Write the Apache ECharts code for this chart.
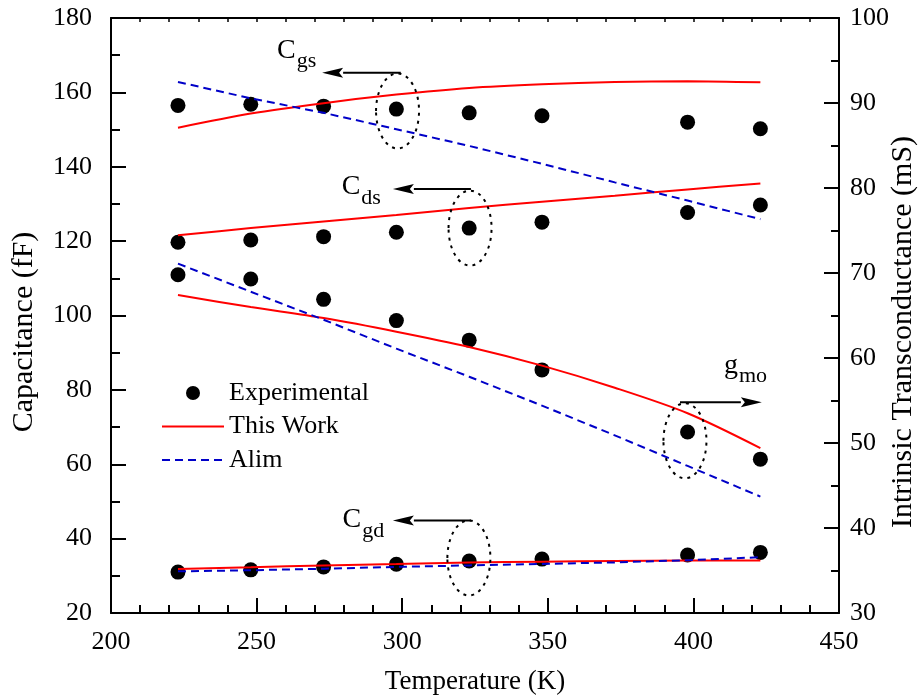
<!DOCTYPE html>
<html>
<head>
<meta charset="utf-8">
<script src="https://cdn.jsdelivr.net/npm/echarts@6/dist/echarts.min.js"></script>
<style>
  html, body { margin: 0; padding: 0; background: #fff; }
  #chart { width: 922px; height: 697px; }
</style>
</head>
<body>
<div id="chart"></div>
<script>
// temperatures (K)
const tempExp = [223, 248, 273, 298, 323, 348, 398, 423];
const tempModel = [223, 248, 273, 298, 323, 348, 373, 398, 423];

// experimental points
const expCgs = [156.5, 156.8, 156.3, 155.5, 154.5, 153.7, 152.0, 150.2];
const expCds = [119.7, 120.3, 121.2, 122.4, 123.5, 125.1, 127.7, 129.7];
const expCgd = [31.0, 31.6, 32.4, 33.1, 34.0, 34.5, 35.6, 36.3];
const expGmo = [69.8, 69.3, 66.9, 64.4, 62.1, 58.6, 51.3, 48.1]; // right axis, mS

// this work model
const workCgs = [150.5, 154.3, 157.1, 159.4, 161.2, 162.2, 162.8, 163.0, 162.7];
const workCds = [121.6, 123.5, 125.3, 127.0, 128.9, 130.6, 132.2, 133.9, 135.5];
const workCgd = [31.8, 32.3, 32.8, 33.2, 33.6, 33.8, 34.0, 34.1, 34.1];
const workGmo = [67.4, 66.0, 64.7, 63.1, 61.3, 59.1, 56.5, 53.5, 49.4];

// Alim model
const alimCgs = [162.8, 158.4, 154.5, 150.1, 145.6, 140.8, 135.8, 130.9, 125.9];
const alimCgd = [31.2, 31.5, 31.9, 32.4, 32.8, 33.2, 33.6, 34.2, 35.0];
const alimGmo = [71.1, 67.8, 64.5, 61.1, 57.8, 54.4, 50.9, 47.3, 43.7];

// annotation labels: main letter, subscript, baseline-left of main letter (K, fF)
const notes = [
  { main: 'C', sub: 'gs', at: [257.0, 168.7] },
  { main: 'C', sub: 'ds', at: [279.2, 132.0] },
  { main: 'C', sub: 'gd', at: [279.5, 42.5] },
  { main: 'g', sub: 'mo', at: [410.5, 84.0] }
];
// arrows: tail -> tip (K, fF)
const arrows = [
  [[299.5, 165.3], [272.5, 165.3]],
  [[323.6, 134.0], [296.8, 134.0]],
  [[323.6, 44.9], [296.8, 44.9]],
  [[395.4, 76.7], [423.5, 76.7]]
];
// dotted ellipses centre (K, fF)
const rings = [[298.4, 155.0], [323.3, 123.5], [397.1, 66.3], [322.9, 34.8]];

const FONT = 'Liberation Serif';
const BLACK = '#000';

const zip = (xs, ys) => xs.map((x, i) => [x, ys[i]]);

const chart = echarts.init(document.getElementById('chart'));

const dotSeries = (data, yAxisIndex) => ({
  name: 'Experimental',
  type: 'scatter',
  yAxisIndex,
  data,
  symbol: 'circle',
  symbolSize: 15,
  itemStyle: { color: BLACK, opacity: 1 },
  z: 2
});

const workSeries = (data, yAxisIndex) => ({
  name: 'This Work',
  type: 'line',
  yAxisIndex,
  data,
  symbol: 'none',
  smooth: 0.3,
  lineStyle: { color: '#ff0000', width: 2 },
  itemStyle: { color: '#ff0000' },
  z: 3
});

const alimSeries = (data, yAxisIndex) => ({
  name: 'Alim',
  type: 'line',
  yAxisIndex,
  data,
  symbol: 'none',
  lineStyle: { color: '#0000c8', width: 2, type: [8, 5] },
  itemStyle: { color: '#0000c8' },
  z: 3
});

const axisLine = { show: true, onZero: false, lineStyle: { color: BLACK, width: 2 } };

chart.setOption({
  backgroundColor: '#fff',
  animation: false,
  grid: {
    left: 111, right: 83, top: 18, bottom: 84,
    containLabel: false,
    outerBoundsMode: 'none'
  },
  legend: {
    data: [
      { name: 'Experimental' },
      { name: 'This Work', itemStyle: { opacity: 0 } },
      { name: 'Alim', itemStyle: { opacity: 0 } }
    ],
    orient: 'vertical',
    left: 161,
    top: 380,
    padding: 0,
    itemWidth: 62,
    itemHeight: 14,
    itemGap: 7.5,
    selectedMode: false,
    textStyle: { fontFamily: FONT, fontSize: 26, color: BLACK }
  },
  xAxis: [
    {
      type: 'value',
      min: 200, max: 450, interval: 50,
      name: 'Temperature (K)',
      nameLocation: 'middle',
      nameGap: 55,
      nameMoveOverlap: false,
      nameTextStyle: { fontFamily: FONT, fontSize: 27, color: BLACK },
      axisLine,
      axisTick: { show: true, inside: true, length: 15, lineStyle: { color: BLACK, width: 2 } },
      minorTick: { show: true, splitNumber: 5, length: 8, lineStyle: { color: BLACK, width: 2 } },
      axisLabel: { fontFamily: FONT, fontSize: 26, color: BLACK, margin: 16 },
      splitLine: { show: false }
    },
    {
      type: 'value',
      position: 'top',
      min: 200, max: 450, interval: 10,
      axisLine,
      axisTick: { show: true, inside: true, length: 4, lineStyle: { color: BLACK, width: 1.5 } },
      axisLabel: { show: false },
      splitLine: { show: false }
    }
  ],
  yAxis: [
    {
      type: 'value',
      min: 20, max: 180, interval: 20,
      name: 'Capacitance (fF)',
      nameLocation: 'middle',
      nameRotate: 90,
      nameGap: 72,
      nameMoveOverlap: false,
      nameTextStyle: { fontFamily: FONT, fontSize: 30, color: BLACK, padding: [0, 33, 0, 0] },
      axisLine,
      axisTick: { show: true, inside: true, length: 15, lineStyle: { color: BLACK, width: 2 } },
      minorTick: { show: true, splitNumber: 2, length: 9, lineStyle: { color: BLACK, width: 2 } },
      axisLabel: { fontFamily: FONT, fontSize: 26, color: BLACK, margin: 19 },
      splitLine: { show: false }
    },
    {
      type: 'value',
      position: 'right',
      min: 30, max: 100, interval: 10,
      name: 'Intrinsic Transconductance (mS)',
      nameLocation: 'middle',
      nameRotate: 90,
      nameGap: 49,
      nameMoveOverlap: false,
      nameTextStyle: { fontFamily: FONT, fontSize: 30, color: BLACK, padding: [0, 33, 0, 0] },
      axisLine,
      axisTick: { show: true, inside: true, length: 15, lineStyle: { color: BLACK, width: 2 } },
      minorTick: { show: true, splitNumber: 2, length: 8, lineStyle: { color: BLACK, width: 2 } },
      axisLabel: { fontFamily: FONT, fontSize: 26, color: BLACK, margin: 11 },
      splitLine: { show: false }
    }
  ],
  series: [
    dotSeries(zip(tempExp, expCgs), 0),
    dotSeries(zip(tempExp, expCds), 0),
    dotSeries(zip(tempExp, expCgd), 0),
    dotSeries(zip(tempExp, expGmo), 1),
    workSeries(zip(tempModel, workCgs), 0),
    workSeries(zip(tempModel, workCds), 0),
    workSeries(zip(tempModel, workCgd), 0),
    workSeries(zip(tempModel, workGmo), 1),
    alimSeries(zip(tempModel, alimCgs), 0),
    alimSeries(zip(tempModel, alimCgd), 0),
    alimSeries(zip(tempModel, alimGmo), 1)
  ]
});

// annotations placed through the axes
const px = (p) => chart.convertToPixel({ xAxisIndex: 0, yAxisIndex: 0 }, p);
const ctx = document.createElement('canvas').getContext('2d');
const textWidth = (s, size) => { ctx.font = size + 'px "' + FONT + '"'; return ctx.measureText(s).width; };

const graphic = [];
notes.forEach((n) => {
  const [x, y] = px(n.at);
  graphic.push({
    type: 'text', x, y: y - 0.34 * 28, z: 10,
    style: { text: n.main, font: '28px "' + FONT + '"', fill: BLACK, verticalAlign: 'middle' }
  });
  graphic.push({
    type: 'text', x: x + textWidth(n.main, 28) + 1, y: y + 9 - 0.34 * 22, z: 10,
    style: { text: n.sub, font: '22px "' + FONT + '"', fill: BLACK, verticalAlign: 'middle' }
  });
});
arrows.forEach(([tail, tip]) => {
  const [x0, y0] = px(tail);
  const [x1, y1] = px(tip);
  const dir = x1 > x0 ? 1 : -1;
  const bx = x1 - dir * 21;
  graphic.push({
    type: 'line', z: 10,
    shape: { x1: x0, y1: y0, x2: bx, y2: y1 },
    style: { stroke: BLACK, lineWidth: 2 }
  });
  graphic.push({
    type: 'polygon', z: 10,
    shape: { points: [[x1, y1], [bx, y1 - 5], [bx + dir * 4, y1], [bx, y1 + 5]] },
    style: { fill: BLACK }
  });
});
rings.forEach((c) => {
  const [cx, cy] = px(c);
  graphic.push({
    type: 'ellipse', z: 10,
    shape: { cx, cy, rx: 21.5, ry: 37.5 },
    style: { fill: 'none', stroke: BLACK, lineWidth: 2, lineDash: [3, 5] }
  });
});

chart.setOption({ graphic });
</script>
</body>
</html>
